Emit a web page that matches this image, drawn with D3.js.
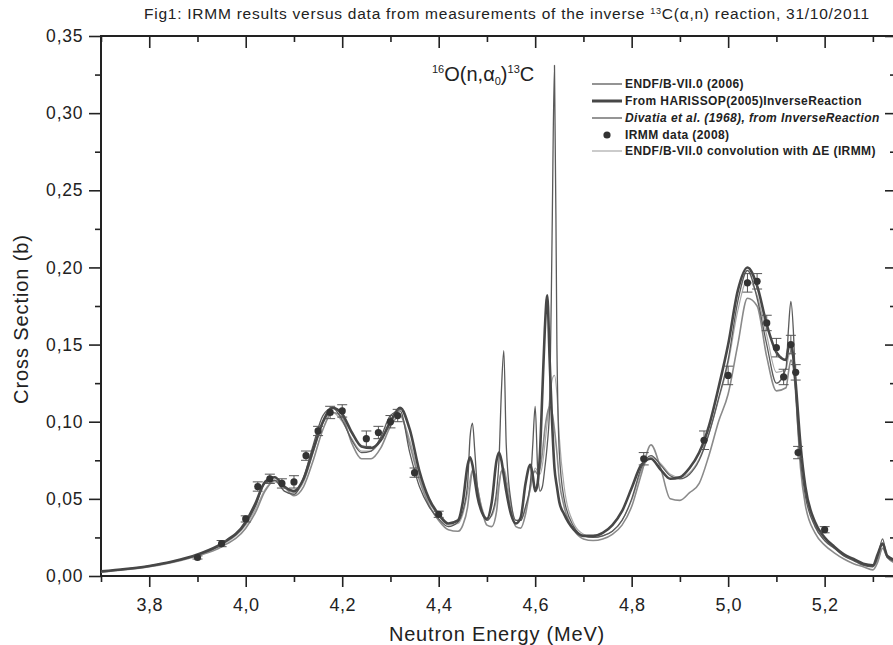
<!doctype html>
<html lang="en">
<head>
<meta charset="utf-8" />
<title>IRMM 16O(n,a0)13C</title>
<script src="https://d3js.org/d3.v7.min.js"></script>
<style>
  body { margin: 0; background: #fff; }
  svg text { font-family: "Liberation Sans", Arial, sans-serif; fill: #222; }
  .tick line { stroke: #222; stroke-width: 1.6px; }
  .domain { display: none; }
</style>
</head>
<body>
<div id="chart"></div>
<script>
// energy grid (MeV) shared by the four evaluated / measured curves
var energy = [3.70, 3.75, 3.80, 3.85, 3.90, 3.95, 4.00,
  4.02, 4.04, 4.06, 4.08, 4.10, 4.12, 4.14, 4.16, 4.18, 4.20,
  4.22, 4.24, 4.26, 4.28, 4.30, 4.32, 4.34, 4.36, 4.38, 4.40,
  4.42, 4.44, 4.45, 4.46, 4.465, 4.47, 4.475, 4.48, 4.49, 4.50,
  4.51, 4.52, 4.525, 4.53, 4.535, 4.54, 4.55, 4.56, 4.57, 4.58,
  4.59, 4.595, 4.60, 4.605, 4.61, 4.615, 4.62, 4.625, 4.63, 4.635,
  4.64, 4.645, 4.65, 4.66, 4.68, 4.70, 4.72, 4.74, 4.76, 4.78,
  4.80, 4.82, 4.84, 4.86, 4.88, 4.90, 4.92, 4.94, 4.96, 4.98,
  5.00, 5.02, 5.04, 5.06, 5.08, 5.10, 5.12, 5.125, 5.13, 5.135,
  5.14, 5.15, 5.16, 5.18, 5.20, 5.22, 5.24, 5.26, 5.28, 5.30,
  5.31, 5.32, 5.33, 5.35];

// ENDF/B-VII.0 (2006)
var endf = [0.003, 0.0045, 0.0065, 0.0095, 0.0135, 0.0205, 0.034,
  0.045, 0.060, 0.062, 0.055, 0.053, 0.064, 0.085, 0.104, 0.109, 0.101,
  0.088, 0.080, 0.081, 0.090, 0.104, 0.107, 0.080, 0.058, 0.045, 0.037,
  0.032, 0.035, 0.042, 0.060, 0.090, 0.099, 0.080, 0.058, 0.042, 0.036,
  0.040, 0.055, 0.075, 0.120, 0.146, 0.085, 0.048, 0.036, 0.036, 0.045,
  0.060, 0.085, 0.110, 0.070, 0.055, 0.058, 0.070, 0.085, 0.110, 0.220,
  0.331, 0.150, 0.080, 0.050, 0.032, 0.026, 0.025, 0.026, 0.029, 0.036,
  0.050, 0.070, 0.078, 0.072, 0.065, 0.063, 0.066, 0.075, 0.092, 0.115,
  0.140, 0.178, 0.198, 0.180, 0.150, 0.125, 0.135, 0.160, 0.178, 0.160,
  0.120, 0.075, 0.052, 0.032, 0.023, 0.018, 0.013, 0.010, 0.007, 0.006,
  0.012, 0.024, 0.012, 0.009];

// From HARISSOP(2005) inverse reaction
var harissop = [0.003, 0.0045, 0.0065, 0.0095, 0.014, 0.021, 0.035,
  0.047, 0.061, 0.064, 0.058, 0.055, 0.063, 0.082, 0.100, 0.109, 0.105,
  0.093, 0.084, 0.083, 0.088, 0.100, 0.109, 0.095, 0.068, 0.050, 0.040,
  0.034, 0.036, 0.048, 0.072, 0.077, 0.072, 0.062, 0.052, 0.041, 0.037,
  0.048, 0.075, 0.080, 0.075, 0.065, 0.055, 0.040, 0.034, 0.038, 0.060,
  0.072, 0.065, 0.055, 0.060, 0.080, 0.120, 0.160, 0.182, 0.140, 0.100,
  0.070, 0.058, 0.048, 0.040, 0.030, 0.026, 0.026, 0.028, 0.033, 0.042,
  0.057, 0.072, 0.076, 0.069, 0.063, 0.064, 0.070, 0.080, 0.097, 0.122,
  0.150, 0.185, 0.200, 0.188, 0.163, 0.145, 0.140, 0.148, 0.150, 0.142,
  0.125, 0.085, 0.058, 0.035, 0.025, 0.019, 0.014, 0.011, 0.008, 0.007,
  0.014, 0.021, 0.013, 0.010];

// Divatia et al. (1968), from inverse reaction
var divatia = [0.0025, 0.004, 0.006, 0.009, 0.013, 0.019, 0.031,
  0.041, 0.055, 0.062, 0.058, 0.052, 0.058, 0.075, 0.095, 0.106, 0.103,
  0.086, 0.076, 0.076, 0.083, 0.097, 0.104, 0.085, 0.062, 0.046, 0.036,
  0.030, 0.029, 0.033, 0.045, 0.058, 0.068, 0.066, 0.058, 0.042, 0.033,
  0.032, 0.042, 0.058, 0.068, 0.068, 0.060, 0.042, 0.032, 0.031, 0.040,
  0.058, 0.066, 0.068, 0.066, 0.070, 0.080, 0.095, 0.105, 0.110, 0.106,
  0.095, 0.080, 0.062, 0.045, 0.030, 0.024, 0.023, 0.024, 0.027, 0.033,
  0.045, 0.066, 0.085, 0.070, 0.050, 0.049, 0.054, 0.060, 0.078, 0.100,
  0.118, 0.150, 0.180, 0.175, 0.142, 0.120, 0.122, 0.132, 0.140, 0.135,
  0.118, 0.070, 0.046, 0.028, 0.020, 0.015, 0.011, 0.008, 0.006, 0.004,
  0.009, 0.018, 0.012, 0.008];

// ENDF/B-VII.0 convolution with dE (IRMM)
var convol = [0.003, 0.0045, 0.0065, 0.0095, 0.0135, 0.020, 0.033,
  0.043, 0.056, 0.061, 0.057, 0.054, 0.061, 0.080, 0.099, 0.106, 0.100,
  0.089, 0.081, 0.081, 0.088, 0.100, 0.104, 0.088, 0.064, 0.048, 0.039,
  0.033, 0.034, 0.040, 0.054, 0.063, 0.069, 0.066, 0.058, 0.044, 0.037,
  0.039, 0.050, 0.060, 0.068, 0.070, 0.064, 0.046, 0.036, 0.036, 0.044,
  0.056, 0.064, 0.070, 0.068, 0.066, 0.072, 0.085, 0.100, 0.115, 0.127,
  0.130, 0.118, 0.090, 0.058, 0.034, 0.027, 0.025, 0.026, 0.029, 0.036,
  0.049, 0.068, 0.077, 0.073, 0.066, 0.064, 0.067, 0.076, 0.092, 0.114,
  0.138, 0.172, 0.192, 0.182, 0.156, 0.132, 0.134, 0.142, 0.146, 0.140,
  0.122, 0.082, 0.055, 0.033, 0.023, 0.018, 0.013, 0.010, 0.007, 0.006,
  0.010, 0.018, 0.013, 0.009];

// IRMM data (2008)
var irmmE   = [3.90, 3.95, 4.00, 4.025, 4.05, 4.075, 4.10, 4.125, 4.15, 4.175, 4.20,
  4.25, 4.275, 4.30, 4.315, 4.35, 4.40, 4.825, 4.95, 5.00, 5.04, 5.06, 5.08,
  5.10, 5.115, 5.13, 5.14, 5.145, 5.20];
var irmmXS  = [0.012, 0.021, 0.037, 0.058, 0.063, 0.060, 0.061, 0.078, 0.094, 0.106, 0.107,
  0.089, 0.093, 0.100, 0.104, 0.067, 0.040, 0.076, 0.088, 0.130, 0.190, 0.191, 0.164,
  0.148, 0.129, 0.150, 0.132, 0.080, 0.030];
var irmmErr = [0.001, 0.002, 0.002, 0.003, 0.003, 0.003, 0.004, 0.003, 0.003, 0.004, 0.004,
  0.005, 0.004, 0.004, 0.004, 0.003, 0.002, 0.004, 0.006, 0.006, 0.006, 0.005, 0.005,
  0.006, 0.005, 0.006, 0.005, 0.004, 0.002];

var xMajor = [3.8, 4.0, 4.2, 4.4, 4.6, 4.8, 5.0, 5.2];
var xMinor = [3.7, 3.9, 4.1, 4.3, 4.5, 4.7, 4.9, 5.1, 5.3];
var yMajor = [0, 0.05, 0.10, 0.15, 0.20, 0.25, 0.30, 0.35];
var yMinor = [0.025, 0.075, 0.125, 0.175, 0.225, 0.275, 0.325];

var legendNames = ["ENDF/B-VII.0 (2006)", "From HARISSOP(2005)InverseReaction",
  "Divatia et al. (1968), from InverseReaction", "IRMM data (2008)",
  "ENDF/B-VII.0 convolution with \u0394E (IRMM)"];

var width = 893, height = 645;
var pLeft = 101, pRight = 897, pTop = 36, pBottom = 576;

var svg = d3.select("#chart").append("svg")
  .attr("width", width).attr("height", height);

var x = d3.scaleLinear().domain([3.7, 5.35]).range([pLeft, pRight]);
var y = d3.scaleLinear().domain([0, 0.35]).range([pBottom, pTop]);

var comma = function(d, digits) { return d.toFixed(digits).replace(".", ","); };

// title
var title = svg.append("text")
  .attr("x", 507).attr("y", 19)
  .attr("text-anchor", "middle")
  .attr("font-size", "15.5px")
  .attr("letter-spacing", "0.75px")
  .attr("fill", "#333");
title.append("tspan").text("Fig1: IRMM results versus data from measurements of the inverse ");
title.append("tspan").attr("font-size", "9px").attr("dy", -5).text("13");
title.append("tspan").attr("dy", 5).text("C(\u03b1,n) reaction, 31/10/2011");

// axes: major + minor ticks on four sides
function axisPair(axisFn, scale, major, minor, len, fmt) {
  return [
    axisFn(scale).tickValues(major).tickSizeInner(len[0]).tickSizeOuter(0).tickFormat(fmt),
    axisFn(scale).tickValues(minor).tickSizeInner(len[1]).tickSizeOuter(0).tickFormat("")
  ];
}

var bx = axisPair(d3.axisBottom, x, xMajor, xMinor, [11, 6], function(d) { return comma(d, 1); });
bx.forEach(function(a) {
  svg.append("g").attr("transform", "translate(0," + pBottom + ")").call(a)
    .selectAll("text").attr("font-size", "18px").attr("letter-spacing", "0.5px")
    .attr("dy", "1.15em");
});
var tx = axisPair(d3.axisBottom, x, xMajor, xMinor, [12, 6], "");
tx.forEach(function(a) {
  svg.append("g").attr("transform", "translate(0," + pTop + ")").call(a);
});
var ly = axisPair(d3.axisLeft, y, yMajor, yMinor, [12, 6], function(d) { return comma(d, 2); });
ly.forEach(function(a) {
  svg.append("g").attr("transform", "translate(" + pLeft + ",0)").call(a)
    .selectAll("text").attr("font-size", "17.5px").attr("letter-spacing", "0.8px")
    .attr("dx", "-0.15em");
});
var ry = axisPair(d3.axisLeft, y, yMajor, yMinor, [12, 7], "");
ry.forEach(function(a) {
  svg.append("g").attr("transform", "translate(" + pRight + ",0)").call(a);
});

// frame
svg.append("rect")
  .attr("x", pLeft).attr("y", pTop)
  .attr("width", pRight - pLeft).attr("height", pBottom - pTop)
  .attr("fill", "none").attr("stroke", "#222").attr("stroke-width", 2);

// axis titles
svg.append("text")
  .attr("x", 497).attr("y", 641)
  .attr("text-anchor", "middle")
  .attr("font-size", "20px")
  .attr("letter-spacing", "0.8px")
  .text("Neutron Energy (MeV)");
svg.append("text")
  .attr("transform", "translate(28,319) rotate(-90)")
  .attr("text-anchor", "middle")
  .attr("font-size", "20px")
  .attr("letter-spacing", "0.9px")
  .text("Cross Section (b)");

// curves
svg.append("clipPath").attr("id", "plotClip")
  .append("rect").attr("x", pLeft).attr("y", pTop)
  .attr("width", pRight - pLeft).attr("height", pBottom - pTop);

var plot = svg.append("g").attr("clip-path", "url(#plotClip)");

var series = [
  { values: convol,   color: "#a8a8a8", w: 1.2 },
  { values: divatia,  color: "#8a8a8a", w: 1.6 },
  { values: endf,     color: "#5a5a5a", w: 1.3 },
  { values: harissop, color: "#474747", w: 2.6 }
];

var line = d3.line()
  .x(function(d) { return x(d[0]); })
  .y(function(d) { return y(d[1]); })
  .curve(d3.curveMonotoneX);

series.forEach(function(s) {
  plot.append("path")
    .datum(energy.map(function(e, i) { return [e, s.values[i]]; }))
    .attr("d", line)
    .attr("fill", "none")
    .attr("stroke", s.color)
    .attr("stroke-width", s.w)
    .attr("stroke-linejoin", "round");
});

// IRMM points with error bars
var pts = irmmE.map(function(e, i) { return { e: e, v: irmmXS[i], err: irmmErr[i] }; });
var eb = plot.selectAll(".err").data(pts).enter().append("g").attr("class", "err")
  .attr("stroke", "#555").attr("stroke-width", 1);
eb.append("line")
  .attr("x1", function(d) { return x(d.e); }).attr("x2", function(d) { return x(d.e); })
  .attr("y1", function(d) { return y(d.v - d.err); }).attr("y2", function(d) { return y(d.v + d.err); });
eb.append("line")
  .attr("x1", function(d) { return x(d.e) - 5; }).attr("x2", function(d) { return x(d.e) + 5; })
  .attr("y1", function(d) { return y(d.v + d.err); }).attr("y2", function(d) { return y(d.v + d.err); });
eb.append("line")
  .attr("x1", function(d) { return x(d.e) - 5; }).attr("x2", function(d) { return x(d.e) + 5; })
  .attr("y1", function(d) { return y(d.v - d.err); }).attr("y2", function(d) { return y(d.v - d.err); });
plot.selectAll(".pt").data(pts).enter().append("circle")
  .attr("class", "pt")
  .attr("cx", function(d) { return x(d.e); })
  .attr("cy", function(d) { return y(d.v); })
  .attr("r", 3.6)
  .attr("fill", "#333");

// reaction label
var lab = svg.append("text").attr("x", 432).attr("y", 81).attr("font-size", "20px");
lab.append("tspan").attr("font-size", "11px").attr("dy", -8).text("16");
lab.append("tspan").attr("dy", 8).text("O(n,\u03b1");
lab.append("tspan").attr("font-size", "11px").attr("dy", 4).text("0");
lab.append("tspan").attr("dy", -4).text(")");
lab.append("tspan").attr("font-size", "11px").attr("dy", -8).text("13");
lab.append("tspan").attr("dy", 8).text("C");

// legend
var legY = [84, 101, 118, 135, 151];
var legStyle = [
  { color: "#5a5a5a", w: 1.3 },
  { color: "#474747", w: 3 },
  { color: "#8a8a8a", w: 1.8 },
  null,
  { color: "#a8a8a8", w: 1.2 }
];
var leg = svg.append("g");
legendNames.forEach(function(name, i) {
  var st = legStyle[i];
  if (st) {
    leg.append("line").attr("x1", 592).attr("x2", 622)
      .attr("y1", legY[i]).attr("y2", legY[i])
      .attr("stroke", st.color).attr("stroke-width", st.w);
  } else {
    leg.append("circle").attr("cx", 607).attr("cy", legY[i]).attr("r", 3.6).attr("fill", "#333");
  }
  leg.append("text")
    .attr("x", 625).attr("y", legY[i] + 4)
    .attr("font-size", "12px")
    .attr("letter-spacing", "0.4px")
    .attr("font-weight", "bold")
    .attr("font-style", i === 2 ? "italic" : "normal")
    .attr("fill", "#333")
    .text(name);
});
</script>
</body>
</html>
